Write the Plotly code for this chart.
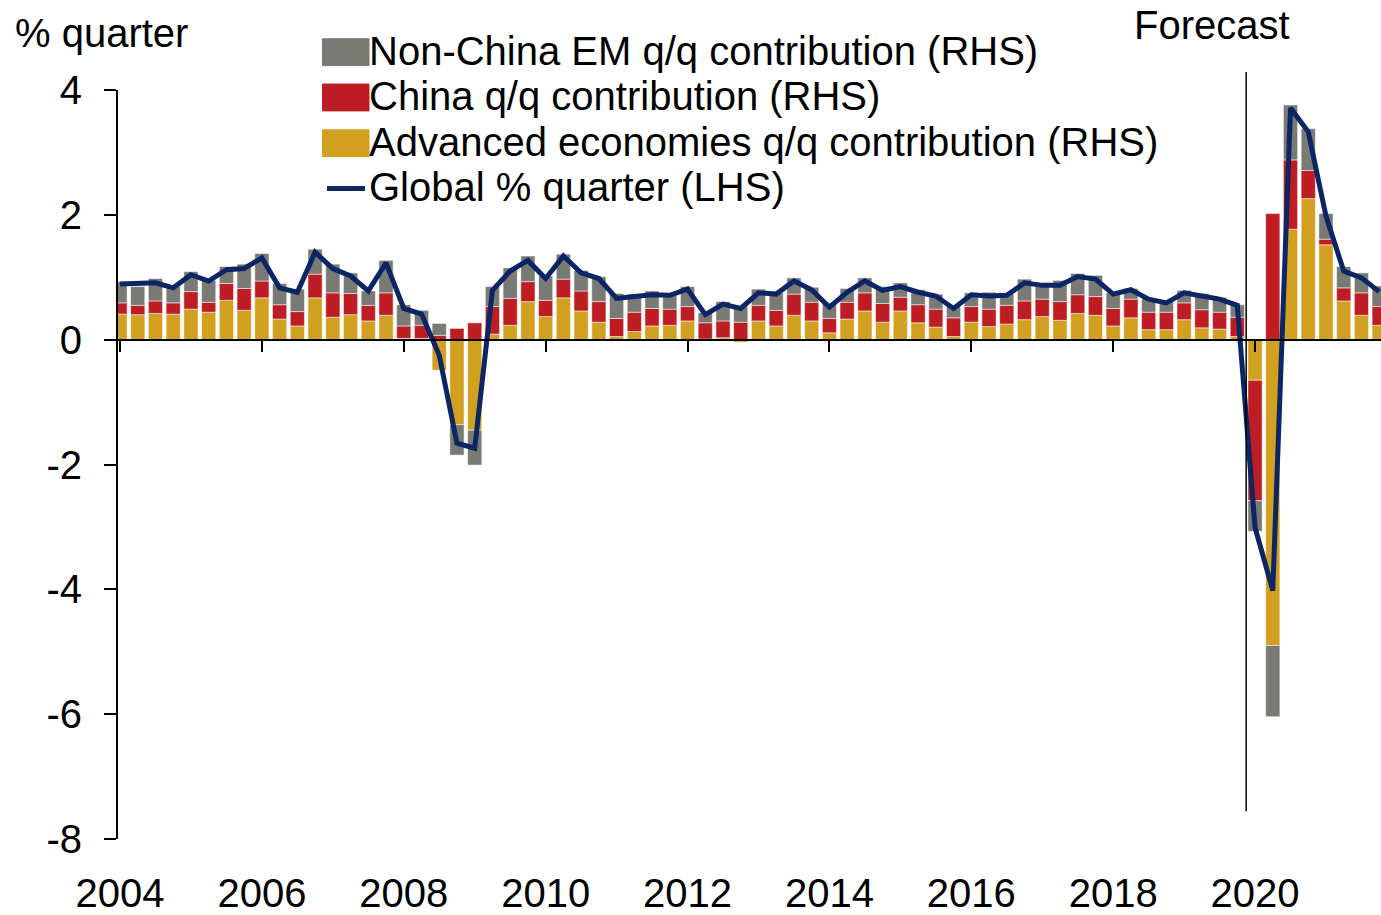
import plotly.graph_objects as go

# quarterly data, 2004Q1 - 2021Q4
years = list(range(2004, 2022))
quarters = [f"{y}Q{q}" for y in years for q in range(1, 5)]
x_pos = [y + (q - 1) / 4 for y in years for q in range(1, 5)]

advanced = [0.41, 0.40, 0.42, 0.41, 0.49, 0.44, 0.63, 0.47, 0.67, 0.33, 0.22, 0.67,
            0.36, 0.40, 0.30, 0.39, 0.02, 0.02, -0.49, -1.36, -1.45, 0.09, 0.23, 0.61,
            0.37, 0.67, 0.46, 0.28, 0.05, 0.13, 0.22, 0.23, 0.30, 0.01, 0.03, -0.04,
            0.30, 0.22, 0.39, 0.30, 0.11, 0.33, 0.46, 0.28, 0.46, 0.27, 0.20, 0.05,
            0.28, 0.21, 0.25, 0.32, 0.37, 0.31, 0.42, 0.39, 0.22, 0.35, 0.16, 0.16,
            0.32, 0.19, 0.17, 0.05, -0.65, -4.90, 1.77, 2.26, 1.52, 0.62, 0.39, 0.23]
china = [0.18, 0.15, 0.20, 0.18, 0.28, 0.16, 0.27, 0.35, 0.27, 0.23, 0.23, 0.38,
         0.39, 0.34, 0.25, 0.36, 0.20, 0.21, 0.07, 0.18, 0.27, 0.44, 0.43, 0.32,
         0.26, 0.30, 0.32, 0.33, 0.29, 0.31, 0.28, 0.26, 0.23, 0.26, 0.27, 0.28,
         0.25, 0.25, 0.34, 0.30, 0.23, 0.27, 0.29, 0.30, 0.22, 0.29, 0.29, 0.30,
         0.25, 0.28, 0.30, 0.30, 0.28, 0.30, 0.30, 0.30, 0.28, 0.30, 0.28, 0.28,
         0.27, 0.29, 0.27, 0.31, -1.93, 2.02, 1.11, 0.45, 0.09, 0.21, 0.36, 0.30]
non_china_em = [0.34, 0.30, 0.36, 0.27, 0.32, 0.35, 0.27, 0.39, 0.44, 0.34, 0.36, 0.40,
                0.46, 0.33, 0.23, 0.52, 0.34, 0.24, 0.19, -0.49, -0.56, 0.32, 0.49, 0.41,
                0.39, 0.40, 0.33, 0.40, 0.40, 0.29, 0.28, 0.24, 0.32, 0.16, 0.31, 0.25,
                0.26, 0.28, 0.26, 0.24, 0.24, 0.22, 0.24, 0.27, 0.23, 0.24, 0.24, 0.19,
                0.22, 0.27, 0.20, 0.35, 0.26, 0.34, 0.34, 0.34, 0.25, 0.17, 0.22, 0.19,
                0.20, 0.26, 0.24, 0.20, -0.49, -1.14, 0.88, 0.67, 0.41, 0.34, 0.32, 0.33]
global_q = [0.89, 0.90, 0.91, 0.83, 1.04, 0.94, 1.12, 1.14, 1.31, 0.83, 0.76, 1.40,
            1.14, 1.02, 0.78, 1.23, 0.50, 0.41, -0.25, -1.66, -1.74, 0.79, 1.10, 1.27,
            0.98, 1.34, 1.07, 0.98, 0.66, 0.69, 0.72, 0.71, 0.81, 0.40, 0.57, 0.50,
            0.75, 0.73, 0.94, 0.80, 0.52, 0.76, 0.94, 0.79, 0.85, 0.76, 0.70, 0.50,
            0.72, 0.70, 0.71, 0.91, 0.87, 0.87, 1.01, 0.97, 0.73, 0.80, 0.65, 0.59,
            0.75, 0.70, 0.65, 0.55, -3.01, -4.02, 3.71, 3.33, 1.98, 1.10, 0.99, 0.77]

tick_years = list(range(2004, 2021, 2))
tick_text = [str(y) for y in tick_years]
y_ticks = [-8, -6, -4, -2, 0, 2, 4]
y_tick_text = ["-8", "-6", "-4", "-2", "0", "2", "4"]
forecast_x = 2019.875   # between 2019Q4 and 2020Q1

GREY = "#7a7a74"
RED = "#be1e23"
GOLD = "#d2a020"
NAVY = "#0b2565"
FONT = "Liberation Sans, Arial, sans-serif"
FS = 40

W, H = 1381, 915
ML, MR, MT, MB = 118, 0, 90, 72
PW, PH = W - ML - MR, H - MT - MB


def px(xp):  # pixel -> paper x
    return (xp - ML) / PW


def py(yp):  # pixel -> paper y
    return (H - MB - yp) / PH


x_range = [2004 - 2 / 70.94, 2004 + (W - 120) / 70.94]

fig = go.Figure()
bar_line = dict(color="white", width=0.5)
fig.add_trace(go.Bar(x=x_pos, y=advanced, name="Advanced economies q/q contribution (RHS)",
                     marker=dict(color=GOLD, line=bar_line), hovertext=quarters))
fig.add_trace(go.Bar(x=x_pos, y=china, name="China q/q contribution (RHS)",
                     marker=dict(color=RED, line=bar_line), hovertext=quarters))
fig.add_trace(go.Bar(x=x_pos, y=non_china_em, name="Non-China EM q/q contribution (RHS)",
                     marker=dict(color=GREY, line=bar_line), hovertext=quarters))
fig.add_trace(go.Scatter(x=x_pos, y=global_q, name="Global % quarter (LHS)", mode="lines",
                         line=dict(color=NAVY, width=5), xaxis="x2", hovertext=quarters))

fig.update_layout(
    width=W, height=H,
    margin=dict(l=ML, r=MR, t=MT, b=MB, pad=0),
    paper_bgcolor="white", plot_bgcolor="white",
    barmode="relative", bargap=0.2,
    showlegend=False,
    font=dict(family=FONT, size=FS, color="black"),
    xaxis=dict(range=x_range, tickvals=tick_years, ticktext=tick_text, ticks="",
               showline=False, showgrid=False, zeroline=False, ticklabelstandoff=27),
    xaxis2=dict(range=x_range, overlaying="x", anchor="free", position=8 / 12, side="bottom",
                tickvals=tick_years, showticklabels=False, ticks="outside", ticklen=11,
                tickwidth=2, tickcolor="black", showline=True, linecolor="black",
                linewidth=2, showgrid=False, zeroline=False),
    yaxis=dict(range=[-8, 4], tickvals=y_ticks, ticktext=y_tick_text, ticks="outside",
               ticklen=12, tickwidth=1.5, tickcolor="black", showline=True,
               linecolor="black", linewidth=2, showgrid=False, zeroline=False,
               ticklabelstandoff=14),
)

# forecast divider
fig.add_shape(type="line", xref="x", yref="paper", x0=forecast_x, x1=forecast_x,
              y0=py(815), y1=py(72), line=dict(color="black", width=1.5))

annotations = [
    dict(text="% quarter", x=px(13), y=py(33), xanchor="left"),
    dict(text="Forecast", x=px(1212), y=py(25), xanchor="center"),
]

# legend drawn by hand so the swatches match the large boxes
legend_rows = [
    ("Non-China EM q/q contribution (RHS)", GREY, 52),
    ("China q/q contribution (RHS)", RED, 97.5),
    ("Advanced economies q/q contribution (RHS)", GOLD, 143.5),
]
for label, color, yc in legend_rows:
    fig.add_shape(type="rect", xref="paper", yref="paper", x0=px(322.5), x1=px(369),
                  y0=py(yc + 13.5), y1=py(yc - 13.5), fillcolor=color,
                  line=dict(color=color, width=1))
    annotations.append(dict(text=label, x=px(367), y=py(yc - 1), xanchor="left"))
fig.add_shape(type="line", xref="paper", yref="paper", x0=px(327), x1=px(365),
              y0=py(189), y1=py(189), line=dict(color=NAVY, width=5))
annotations.append(dict(text="Global % quarter (LHS)", x=px(367), y=py(188), xanchor="left"))

for a in annotations:
    fig.add_annotation(xref="paper", yref="paper", yanchor="middle", showarrow=False,
                       font=dict(family=FONT, size=FS, color="black"), **a)

# drop the default 8px page margin so the figure fills the window exactly
fig.write_html("out.html", config={"displayModeBar": False},
               post_script="document.body.style.margin = '0';")
